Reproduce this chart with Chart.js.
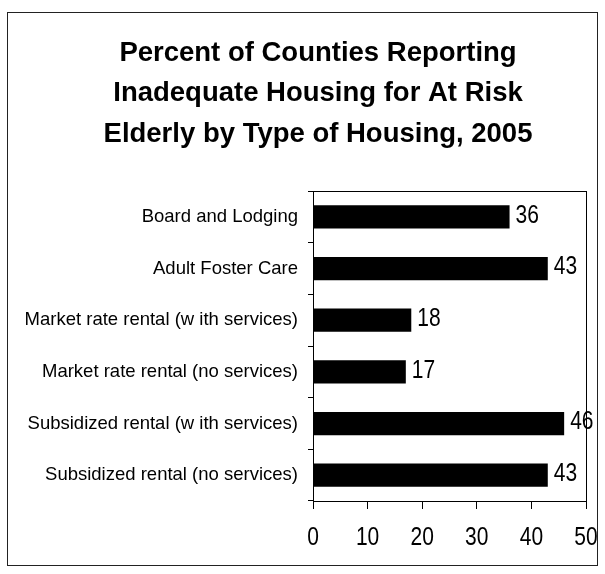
<!DOCTYPE html>
<html lang="en">
<head>
  <meta charset="UTF-8" />
  <title>Inadequate Housing for At Risk Elderly</title>
  <script src="https://cdn.jsdelivr.net/npm/chart.js"></script>
  <style>
    body { margin: 0; background: #fff; }
    .wrap { position: relative; width: 605px; height: 574px; }
    .frame {
      position: absolute; left: 7px; top: 12px; width: 589px; height: 552px;
      border: 1px solid #222; pointer-events: none;
    }
  </style>
</head>
<body>
  <div class="wrap">
    <canvas id="chart" width="605" height="574"></canvas>
    <div class="frame"></div>
  </div>
  <script>
    const titleLines = [
      'Percent of Counties Reporting',
      'Inadequate Housing for At Risk',
      'Elderly by Type of Housing, 2005'
    ];
    const categories = [
      'Board and Lodging',
      'Adult Foster Care',
      'Market rate rental (w ith services)',
      'Market rate rental (no services)',
      'Subsidized rental (w ith services)',
      'Subsidized rental (no services)'
    ];
    const percents = [36, 43, 18, 17, 46, 43];
    const xTicks = [0, 10, 20, 30, 40, 50];

    const FONT = "'Liberation Sans', Arial, sans-serif";

    // narrow-looking numbers: squeeze regular Arial horizontally
    function narrowText(ctx, txt, x, y, align) {
      ctx.save();
      ctx.translate(x, y);
      ctx.scale(0.84, 1);
      ctx.textAlign = align;
      ctx.fillText(txt, 0, 0);
      ctx.restore();
    }

    // title, plot box, value labels, x tick labels
    const extras = {
      id: 'extras',
      afterDraw(chart) {
        const ctx = chart.ctx, a = chart.chartArea;
        ctx.save();
        ctx.fillStyle = '#000';
        ctx.font = 'bold 27.5px ' + FONT;
        ctx.textAlign = 'center';
        ctx.textBaseline = 'middle';
        titleLines.forEach((t, i) => ctx.fillText(t, 318, 53 + i * 40.7));

        ctx.strokeStyle = '#000';
        ctx.lineWidth = 1;
        ctx.strokeRect(a.left + 0.5, a.top + 0.5, a.right - a.left, a.bottom - a.top);

        ctx.font = '25px ' + FONT;
        chart.getDatasetMeta(0).data.forEach((bar, i) => {
          narrowText(ctx, String(percents[i]), bar.x + 6, bar.y - 1, 'left');
        });
        const xs = chart.scales.x;
        xTicks.forEach(v => {
          narrowText(ctx, String(v), xs.getPixelForValue(v), a.bottom + 37, 'center');
        });
        ctx.restore();
      }
    };

    new Chart(document.getElementById('chart'), {
      type: 'bar',
      plugins: [extras],
      data: {
        labels: categories,
        datasets: [{
          data: percents,
          backgroundColor: '#000',
          barPercentage: 0.45,
          categoryPercentage: 1
        }]
      },
      options: {
        indexAxis: 'y',
        responsive: false,
        animation: false,
        layout: { padding: { left: 8, right: 19, top: 191, bottom: 65 } },
        scales: {
          x: {
            min: 0, max: 50,
            afterBuildTicks: s => { s.ticks = xTicks.map(v => ({ value: v })); },
            border: { color: '#000' },
            grid: { drawOnChartArea: false, color: '#000', tickLength: 8 },
            ticks: { display: false }
          },
          y: {
            afterFit: s => { s.width = 305; },
            border: { color: '#000' },
            grid: { drawOnChartArea: false, color: '#000', tickLength: 5 },
            ticks: { color: '#000', padding: 10, font: { family: FONT, size: 18.5 } }
          }
        },
        plugins: {
          legend: { display: false },
          tooltip: { enabled: false },
          title: { display: false }
        }
      }
    });
  </script>
</body>
</html>
